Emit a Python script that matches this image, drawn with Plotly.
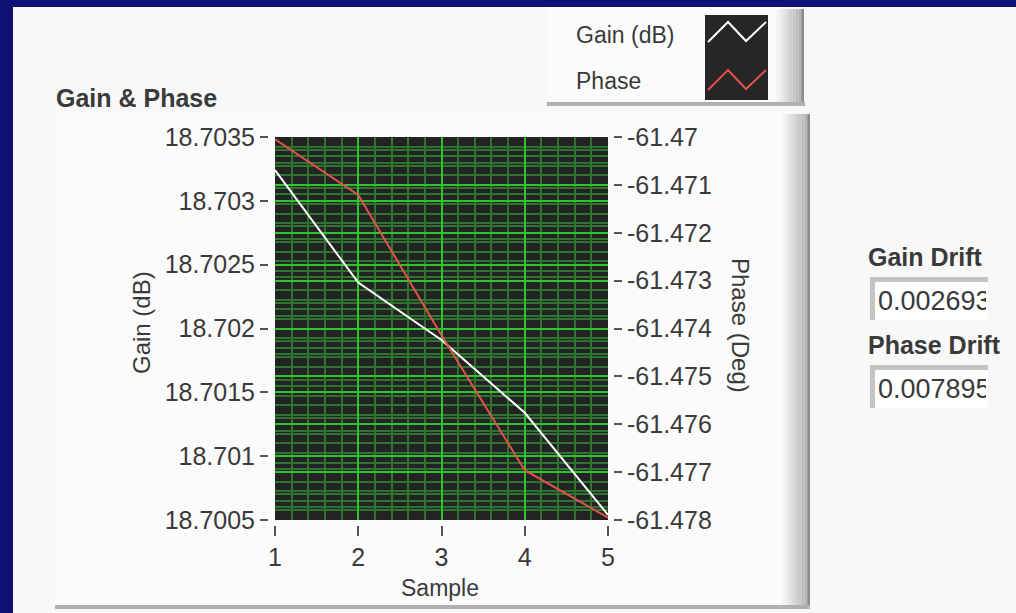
import plotly.graph_objects as go

# ---------------- data ----------------
samples = [1, 2, 3, 4, 5]
gain_db = [18.70324, 18.70236, 18.70191, 18.70134, 18.70054]
phase_deg = [-61.47005, -61.47121, -61.47414, -61.47696, -61.47795]

gain_ticks = [18.7005, 18.701, 18.7015, 18.702, 18.7025, 18.703, 18.7035]
gain_ticktext = ["18.7005", "18.701", "18.7015", "18.702", "18.7025", "18.703", "18.7035"]
phase_ticks = [-61.478, -61.477, -61.476, -61.475, -61.474, -61.473, -61.472, -61.471, -61.47]
phase_ticktext = ["-61.478", "-61.477", "-61.476", "-61.475", "-61.474", "-61.473", "-61.472", "-61.471", "-61.47"]
sample_ticks = [1, 2, 3, 4, 5]

gain_drift_text = "0.002693"
phase_drift_text = "0.007895"

# ---------------- layout geometry ----------------
W, H = 1016, 613
L, R, T, B = 268, 403, 137, 88
PW, PH = W - L - R, H - T - B

def xp(px):
    return (px - L) / PW

def yp(py):
    return 1 - (py - T) / PH

FONT = "Liberation Sans"
TXT = "#3a3a3a"
MAJOR = "#2fc42f"
MINOR = "#2f7330"
TICKSIZE = 25

fig = go.Figure()
fig.add_trace(go.Scatter(x=samples, y=gain_db, mode="lines", name="Gain (dB)",
                         line=dict(color="#ffffff", width=2), yaxis="y"))
fig.add_trace(go.Scatter(x=samples, y=phase_deg, mode="lines", name="Phase",
                         line=dict(color="#e0524a", width=2), yaxis="y2"))

shapes = []
def rect(x0, y0, x1, y1, color, layer="below"):
    shapes.append(dict(type="rect", xref="paper", yref="paper",
                       x0=xp(x0), x1=xp(x1), y0=yp(y1), y1=yp(y0),
                       fillcolor=color, line=dict(width=0), layer=layer))

# panel
rect(13, 7, 1016, 613, "#f8f8f8")
# chart frame slightly whiter
rect(55, 113, 790, 606, "#fbfbfb")
# chart frame right edge gradient
edge_cols = ["#f4f4f4", "#eeeeee", "#e6e6e6", "#dedede", "#d6d6d6", "#cecece", "#c6c6c6", "#bdbdbd", "#b4b4b4", "#8c8c8c"]
for i, c in enumerate(edge_cols):
    rect(782 + i * 2.8, 114, 782 + (i + 1) * 2.8, 609, c)
rect(55, 605, 810, 609, "#b0b0b0")
# legend frame
rect(547, 7, 780, 103, "#fbfbfb")
for i, c in enumerate(edge_cols):
    rect(776 + i * 2.8, 9, 776 + (i + 1) * 2.8, 106, c)
rect(547, 102, 805, 106, "#b0b0b0")
# legend swatch
rect(705, 15, 768, 100, "#262626")
shapes.append(dict(type="path", xref="paper", yref="paper", layer="above",
                   path="M {},{} L {},{} L {},{} L {},{}".format(xp(708), yp(42), xp(728), yp(22), xp(746), yp(41), xp(766), yp(22)),
                   line=dict(color="#ffffff", width=2)))
shapes.append(dict(type="path", xref="paper", yref="paper", layer="above",
                   path="M {},{} L {},{} L {},{} L {},{}".format(xp(708), yp(90), xp(728), yp(70), xp(746), yp(89), xp(766), yp(70)),
                   line=dict(color="#e0524a", width=2)))
# drift boxes (inset)
for y0 in (277, 365):
    rect(870, y0, 988, y0 + 43, "#c4c4c4")
    rect(875, y0 + 5, 988, y0 + 43, "#ffffff")
# plot area
shapes.append(dict(type="rect", xref="x domain", yref="y domain", x0=0, x1=1, y0=0, y1=1,
                   fillcolor="#232323", line=dict(width=0), layer="below"))

annotations = []
def text(px, py, s, size=24, bold=False, xanchor="left", angle=0, **kw):
    annotations.append(dict(xref="paper", yref="paper", x=xp(px), y=yp(py), text=("<b>%s</b>" % s) if bold else s,
                            showarrow=False, xanchor=xanchor, yanchor="middle", textangle=angle,
                            font=dict(family=FONT, size=size, color=TXT), **kw))

text(54, 98, "Gain &amp; Phase", size=25, bold=True)
text(574, 35, "Gain (dB)", size=23)
text(574, 81, "Phase", size=23)
text(141, 323, "Gain (dB)", size=24, xanchor="center", angle=-90)
text(741, 325, "Phase (Deg)", size=24, xanchor="center", angle=90)
text(440, 588, "Sample", size=23, xanchor="center")
text(866, 257, "Gain Drift", size=25, bold=True)
text(866, 345, "Phase Drift", size=25, bold=True)
for y0, s in ((277, gain_drift_text), (365, phase_drift_text)):
    annotations.append(dict(xref="paper", yref="paper", x=xp(876), y=yp(y0 + 24), text=s, showarrow=False,
                            xanchor="left", yanchor="middle", width=108, align="left",
                            font=dict(family=FONT, size=27, color=TXT)))

fig.update_layout(
    width=W, height=H,
    margin=dict(l=L, r=R, t=T, b=B, pad=0),
    paper_bgcolor="#0d1175",
    plot_bgcolor="rgba(0,0,0,0)",
    showlegend=False,
    shapes=shapes,
    annotations=annotations,
    font=dict(family=FONT, size=24, color=TXT),
    xaxis=dict(domain=[7 / PW, 340 / PW], range=[1, 5], anchor="free", position=0,
               tickvals=sample_ticks, ticktext=[str(s) for s in sample_ticks],
               ticks="outside", ticklen=10, tickwidth=2, tickcolor="#555555",
               showgrid=True, gridcolor=MAJOR, gridwidth=2, zeroline=False, showline=False,
               minor=dict(tick0=1, dtick=0.2, showgrid=True, gridcolor=MINOR, gridwidth=1.5),
               tickfont=dict(family=FONT, size=TICKSIZE, color=TXT)),
    yaxis=dict(domain=[5 / PH, 1], range=[18.7005, 18.7035], anchor="free", position=0,
               tickvals=gain_ticks, ticktext=gain_ticktext,
               ticks="outside", ticklen=8, tickwidth=2, tickcolor="#555555",
               showgrid=True, gridcolor=MAJOR, gridwidth=2, zeroline=False, showline=False,
               minor=dict(tick0=18.7005, dtick=0.0001, showgrid=True, gridcolor=MINOR, gridwidth=1.5),
               tickfont=dict(family=FONT, size=TICKSIZE, color=TXT)),
    yaxis2=dict(domain=[5 / PH, 1], range=[-61.478, -61.47], anchor="free", position=1,
                overlaying="y", side="right",
                tickvals=phase_ticks, ticktext=phase_ticktext,
                ticks="outside", ticklen=8, tickwidth=2, tickcolor="#555555",
                showgrid=True, gridcolor=MAJOR, gridwidth=2, zeroline=False, showline=False,
                minor=dict(tick0=-61.478, dtick=0.0002, showgrid=True, gridcolor=MINOR, gridwidth=1.5),
                tickfont=dict(family=FONT, size=TICKSIZE, color=TXT)),
)

fig.write_html("out.html", config={"displayModeBar": False},
               post_script="document.body.style.margin='0';document.body.style.overflow='hidden';")
